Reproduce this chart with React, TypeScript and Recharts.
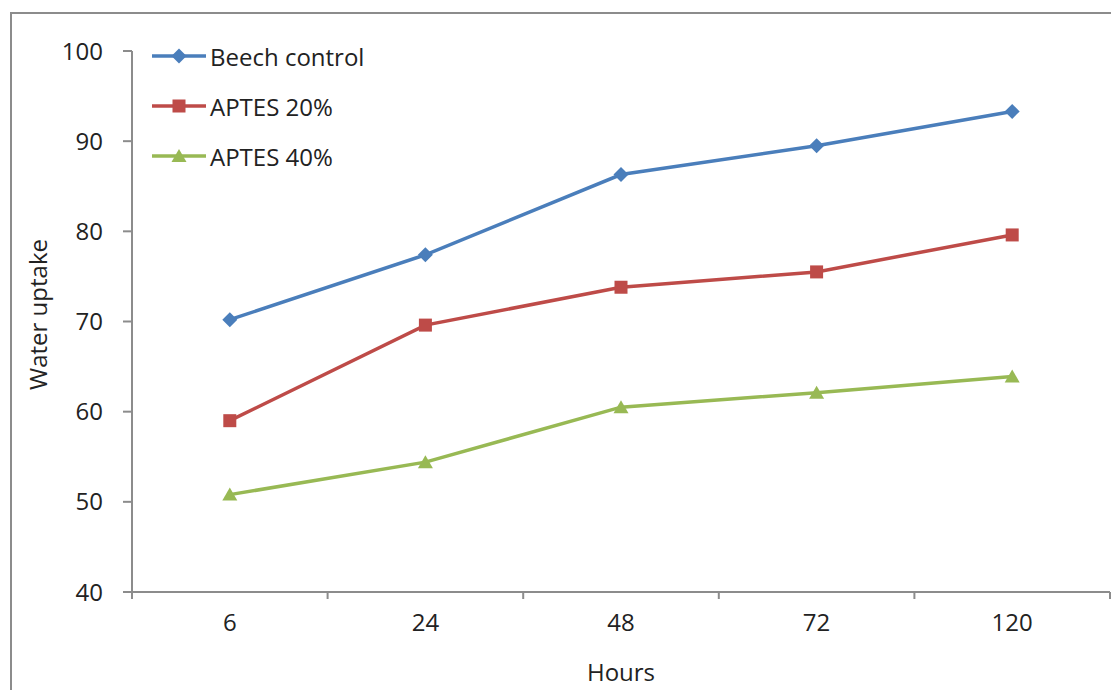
import { LineChart, Line, XAxis, YAxis } from "recharts";

const hours = ["6", "24", "48", "72", "120"];
const beech = [70.2, 77.4, 86.3, 89.5, 93.3];
const aptes20 = [59.0, 69.6, 73.8, 75.5, 79.6];
const aptes40 = [50.8, 54.4, 60.5, 62.1, 63.9];
const yTicks = [40, 50, 60, 70, 80, 90, 100];

const BLUE = "#4A7EBB";
const RED = "#BE4B48";
const GREEN = "#98B954";
const FONT = "'Open Sans', sans-serif";
const FS = 24;

const data = hours.map((h, i) => ({ idx: i, h, beech: beech[i], aptes20: aptes20[i], aptes40: aptes40[i] }));

// tick positions: category centres carry labels, boundaries carry tick marks
const xTicks: number[] = [];
for (let i = 0; i <= hours.length; i++) {
  xTicks.push(i - 0.5);
  if (i < hours.length) xTicks.push(i);
}

function Marker({ kind, cx, cy, color }: { kind: string; cx: number; cy: number; color: string }) {
  if (kind === "diamond") {
    return <path d={`M${cx},${cy - 7.5} L${cx + 7.5},${cy} L${cx},${cy + 7.5} L${cx - 7.5},${cy} Z`} fill={color} />;
  }
  if (kind === "square") {
    return <rect x={cx - 6.5} y={cy - 6.5} width={13} height={13} fill={color} />;
  }
  return <path d={`M${cx},${cy - 7} L${cx + 7.5},${cy + 6} L${cx - 7.5},${cy + 6} Z`} fill={color} />;
}

const makeDot = (kind: string, color: string) => (p: any) => (
  <g key={`${kind}-${p.index}`}>
    <Marker kind={kind} cx={p.cx} cy={p.cy} color={color} />
  </g>
);

const series = [
  { key: "beech", name: "Beech control", color: BLUE, kind: "diamond" },
  { key: "aptes20", name: "APTES 20%", color: RED, kind: "square" },
  { key: "aptes40", name: "APTES 40%", color: GREEN, kind: "triangle" },
];

function XTick(props: any) {
  const { x, y, payload } = props;
  const v = payload.value;
  if (Number.isInteger(v)) {
    return (
      <text x={x} y={y + 32} textAnchor="middle" fontSize={FS} fontFamily={FONT} fill="#222">
        {hours[v]}
      </text>
    );
  }
  return <line x1={x} x2={x} y1={y - 7} y2={y} stroke="#8c8c8c" strokeWidth={2} />;
}

function LegendBox() {
  return (
    <div style={{ position: "absolute", left: 150, top: 31, fontFamily: FONT, fontSize: FS, color: "#222" }}>
      {series.map((s) => (
        <div key={s.key} style={{ display: "flex", alignItems: "center", height: 50 }}>
          <svg width={58} height={20}>
            <line x1={2} x2={56} y1={10} y2={10} stroke={s.color} strokeWidth={3.5} />
            <Marker kind={s.kind} cx={29} cy={10} color={s.color} />
          </svg>
          <span style={{ marginLeft: 2 }}>{s.name}</span>
        </div>
      ))}
    </div>
  );
}

export default function App() {
  return (
    <div style={{ position: "absolute", left: 0, top: 0, width: 1111, height: 690, overflow: "hidden", background: "#fff" }}>
      <div style={{ position: "absolute", left: 10, top: 12, width: 1130, height: 720, border: "2px solid #8c8c8c" }} />
      <div style={{ position: "absolute", left: 0, top: 0 }}>
        <LineChart width={1111} height={690} data={data} margin={{ top: 51, right: 1, left: 72, bottom: 38 }}>
          <XAxis
            dataKey="idx"
            type="number"
            domain={[-0.5, hours.length - 0.5]}
            ticks={xTicks}
            interval={0}
            tickLine={false}
            tickSize={7}
            tickMargin={0}
            height={60}
            axisLine={{ stroke: "#8c8c8c", strokeWidth: 2 }}
            tick={<XTick />}
            label={(p: any) => {
              const vb = p.viewBox;
              return (
                <text x={vb.x + vb.width / 2} y={vb.y + 89} textAnchor="middle" fontSize={FS} fontFamily={FONT} fill="#222">
                  Hours
                </text>
              );
            }}
          />
          <YAxis
            domain={[40, 100]}
            ticks={yTicks}
            interval={0}
            width={60}
            tickSize={9}
            tickMargin={20}
            tickLine={{ stroke: "#8c8c8c", strokeWidth: 2 }}
            axisLine={{ stroke: "#8c8c8c", strokeWidth: 2 }}
            tick={{ fontSize: FS, fontFamily: FONT, fill: "#222" }}
            label={(p: any) => {
              const vb = p.viewBox;
              const cx = vb.x - 35;
              const cy = vb.y + vb.height / 2 - 7;
              return (
                <text x={cx} y={cy} transform={`rotate(-90 ${cx} ${cy})`} textAnchor="middle" dominantBaseline="central" fontSize={FS} fontFamily={FONT} fill="#222">
                  Water uptake
                </text>
              );
            }}
          />
          {series.map((s) => (
            <Line
              key={s.key}
              dataKey={s.key}
              name={s.name}
              stroke={s.color}
              strokeWidth={3.5}
              dot={makeDot(s.kind, s.color)}
              activeDot={false}
              isAnimationActive={false}
            />
          ))}
        </LineChart>
      </div>
      <LegendBox />
    </div>
  );
}
